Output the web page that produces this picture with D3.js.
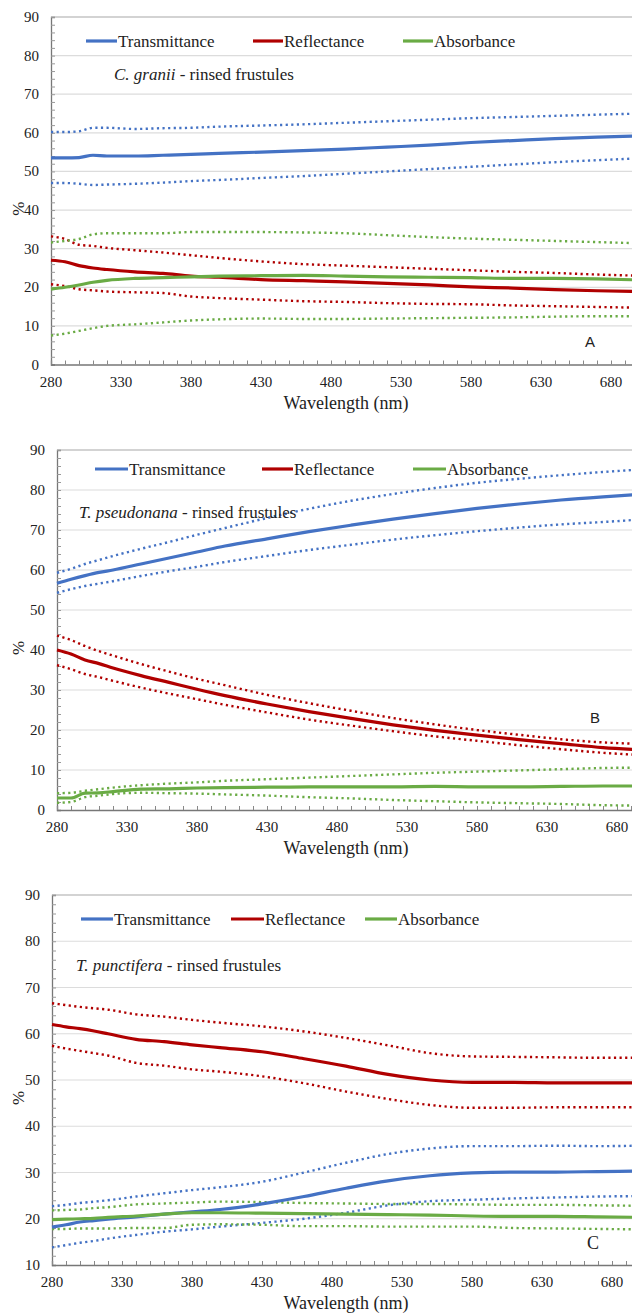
<!DOCTYPE html>
<html><head><meta charset="utf-8">
<script src="https://cdn.jsdelivr.net/npm/d3@7"></script>
<style>
html,body{margin:0;padding:0;background:#fff;}
svg{display:block;}
</style></head>
<body>
<svg id="chart" width="632" height="1316"></svg>
<script>
// ---------- DATA ----------
const wavelengths = [280,290,300,310,320,340,360,380,400,430,460,490,520,550,580,610,640,670,700];
const xTickLabels = [280,330,380,430,480,530,580,630,680];
const seriesNames = ["Transmittance","Reflectance","Absorbance"];

// Panel A: C. granii
const A_T    = [53.5,53.5,53.6,54.2,54.0,54.0,54.2,54.4,54.7,55.0,55.4,55.8,56.3,56.8,57.5,58.0,58.5,58.9,59.2];
const A_Tup  = [60.2,60.2,60.4,61.3,61.3,61.0,61.2,61.3,61.6,61.9,62.2,62.6,63.0,63.4,63.8,64.1,64.4,64.7,65.0];
const A_Tlo  = [47.0,47.0,46.8,46.5,46.6,46.8,47.1,47.5,47.8,48.3,48.8,49.4,50.0,50.6,51.2,51.8,52.4,52.9,53.4];
const A_R    = [27.0,26.6,25.6,25.0,24.6,24.0,23.6,22.9,22.6,22.0,21.7,21.4,21.0,20.6,20.1,19.8,19.4,19.1,18.9];
const A_Rup  = [33.2,32.5,31.0,30.7,30.2,29.6,29.0,28.3,27.6,26.7,26.0,25.6,25.2,24.8,24.4,24.0,23.7,23.3,23.0];
const A_Rlo  = [20.8,20.3,19.5,19.2,18.9,18.7,18.5,17.6,17.2,16.8,16.4,16.2,15.9,15.7,15.6,15.3,15.1,14.9,14.7];
const A_A    = [19.5,20.0,20.6,21.3,21.8,22.3,22.5,22.7,22.9,23.0,23.1,22.9,22.7,22.6,22.5,22.3,22.3,22.2,21.9];
const A_Aup  = [31.6,32.0,32.5,33.7,34.0,34.0,34.0,34.3,34.3,34.3,34.2,34.0,33.5,33.0,32.6,32.3,32.0,31.7,31.4];
const A_Alo  = [7.5,8.0,8.7,9.4,10.0,10.4,10.9,11.4,11.7,11.9,11.8,11.8,11.9,12.0,12.1,12.2,12.4,12.5,12.5];

// Panel B: T. pseudonana
const B_T    = [56.7,57.7,58.6,59.4,60.0,61.5,63.0,64.5,66.0,67.8,69.6,71.2,72.7,74.1,75.4,76.5,77.5,78.3,79.0];
const B_Tup  = [59.3,60.3,61.5,62.5,63.5,65.3,67.0,68.8,70.5,73.0,75.3,77.3,79.0,80.5,81.8,82.8,83.7,84.5,85.2];
const B_Tlo  = [54.3,55.2,56.0,56.6,57.2,58.5,59.7,60.8,62.0,63.5,65.0,66.3,67.6,68.7,69.7,70.6,71.4,72.0,72.7];
const B_R    = [40.0,39.0,37.5,36.6,35.5,33.6,31.9,30.2,28.6,26.5,24.6,22.9,21.3,19.9,18.7,17.6,16.6,15.6,15.0];
const B_Rup  = [43.6,42.5,41.0,39.7,38.6,36.5,34.6,32.8,31.2,28.8,26.7,24.8,23.0,21.4,20.0,18.8,17.7,16.9,16.5];
const B_Rlo  = [36.2,35.2,34.0,33.2,32.3,30.6,29.1,27.7,26.3,24.4,22.6,21.1,19.7,18.4,17.3,16.2,15.2,14.3,13.7];
const B_A    = [3.0,3.0,4.2,4.3,4.6,5.2,5.3,5.5,5.6,5.7,5.8,5.8,5.8,5.9,5.8,5.8,5.9,6.0,6.0];
const B_Aup  = [4.2,4.3,4.8,5.2,5.6,6.2,6.6,6.9,7.3,7.7,8.1,8.5,8.9,9.3,9.6,9.9,10.2,10.5,10.6];
const B_Alo  = [1.8,2.0,3.2,3.6,4.0,4.3,4.2,4.1,3.9,3.6,3.2,2.9,2.5,2.2,1.9,1.7,1.5,1.2,1.1];

// Panel C: T. punctifera
const C_T    = [18.2,18.7,19.3,19.6,19.9,20.4,21.0,21.5,22.0,23.2,24.8,26.6,28.2,29.3,29.9,30.1,30.1,30.2,30.3];
const C_Tup  = [22.7,23.0,23.4,23.7,24.0,24.8,25.5,26.2,26.8,28.0,30.0,32.1,34.0,35.2,35.7,35.7,35.8,35.7,35.8];
const C_Tlo  = [13.8,14.3,14.8,15.2,15.7,16.5,17.2,17.7,18.3,19.1,20.0,21.3,22.9,23.8,24.1,24.4,24.6,24.8,24.9];
const C_R    = [62.0,61.5,61.1,60.6,60.0,58.8,58.3,57.6,57.0,56.1,54.6,53.0,51.2,50.0,49.5,49.5,49.4,49.4,49.4];
const C_Rup  = [66.6,66.2,65.8,65.5,65.2,64.2,63.7,63.0,62.4,61.6,60.5,59.1,57.5,55.8,55.1,55.0,54.9,54.8,54.8];
const C_Rlo  = [57.4,56.8,56.3,55.8,55.3,53.7,53.1,52.3,51.8,50.8,49.3,47.5,45.9,44.6,44.0,44.0,44.1,44.1,44.1];
const C_A    = [19.8,19.9,20.0,20.1,20.3,20.6,21.0,21.3,21.3,21.2,21.1,21.0,20.9,20.8,20.6,20.5,20.5,20.4,20.3];
const C_Aup  = [21.8,21.9,22.0,22.3,22.5,23.1,23.3,23.5,23.7,23.6,23.4,23.3,23.2,23.2,23.1,23.0,23.0,22.9,22.8];
const C_Alo  = [17.8,17.8,17.9,17.9,17.9,18.0,18.0,18.7,18.8,18.7,18.4,18.4,18.3,18.3,18.3,18.0,17.9,17.8,17.7];

// ---------- STYLE / LAYOUT ----------
const colors = {Transmittance:"#4472C4", Reflectance:"#B00000", Absorbance:"#6AAB45"};
const serif = "'Liberation Serif', 'Times New Roman', Times, 'DejaVu Serif', serif";
const sans  = "'Liberation Sans', Arial, sans-serif";

const panels = [
  {x0:51, yTop:17, yBot:364.5, yMin:0, italic:"C. granii", letter:"A", letterFont:sans, letterSize:15, letterX:590, letterY:347,
   legendY:41, legend:[[86,117],[253,283],[403,433]], subX:114, subY:80,
   series:{Transmittance:[A_T,A_Tup,A_Tlo], Reflectance:[A_R,A_Rup,A_Rlo], Absorbance:[A_A,A_Aup,A_Alo]}},
  {x0:57, yTop:450, yBot:810, yMin:0, italic:"T. pseudonana", letter:"B", letterFont:sans, letterSize:15, letterX:595, letterY:723,
   legendY:469, legend:[[95,128],[262,293],[413,446]], subX:79, subY:518,
   series:{Transmittance:[B_T,B_Tup,B_Tlo], Reflectance:[B_R,B_Rup,B_Rlo], Absorbance:[B_A,B_Aup,B_Alo]}},
  {x0:52, yTop:895, yBot:1265, yMin:10, italic:"T. punctifera", letter:"C", letterFont:serif, letterSize:18, letterX:593, letterY:1249,
   legendY:919, legend:[[81,113],[231,264],[365,397]], subX:76, subY:971,
   series:{Transmittance:[C_T,C_Tup,C_Tlo], Reflectance:[C_R,C_Rup,C_Rlo], Absorbance:[C_A,C_Aup,C_Alo]}}
];

const svg = d3.select("#chart");

function txt(sel, family, size) {
  return sel.style("font-family", family).style("font-size", size + "px").style("fill", "#222");
}

panels.forEach(p => {
  const g = svg.append("g");
  const x = d3.scaleLinear().domain([280,700]).range([p.x0, p.x0 + 588]);
  const y = d3.scaleLinear().domain([p.yMin,90]).range([p.yBot, p.yTop]);

  // gridlines
  const majors = d3.range(p.yMin, 91, 10);
  g.selectAll(".grid").data(majors.filter(v => v !== p.yMin)).enter().append("line")
    .attr("x1", p.x0).attr("x2", 640)
    .attr("y1", d => y(d)).attr("y2", d => y(d))
    .attr("stroke", d => d === 90 ? "#a8a8a8" : "#dcdcdc").attr("stroke-width", 1.2);

  // y axis (inner minor ticks every 2)
  const yAxis = d3.axisRight(y).tickValues(d3.range(p.yMin, 90.1, 2)).tickSize(4).tickFormat("");
  const ya = g.append("g").attr("transform", `translate(${p.x0},0)`).call(yAxis);
  ya.select(".domain").attr("stroke", "#777").attr("stroke-width", 1.3);
  ya.selectAll(".tick line").attr("stroke", "#999");
  txt(g.selectAll(".ylab").data(majors).enter().append("text")
    .attr("x", p.x0 - 12).attr("y", d => y(d) + 5)
    .attr("text-anchor", "end"), serif, 15)
    .text(d => d);

  // x axis (inner ticks every 10)
  const xAxis = d3.axisTop(x).tickValues(d3.range(280, 701, 10)).tickSize(4).tickFormat("");
  const xa = g.append("g").attr("transform", `translate(0,${p.yBot})`).call(xAxis);
  xa.select(".domain").attr("stroke", "#777").attr("stroke-width", 1.3);
  xa.selectAll(".tick line").attr("stroke", "#888");
  txt(g.selectAll(".xlab").data(xTickLabels).enter().append("text")
    .attr("x", d => x(d)).attr("y", p.yBot + 22)
    .attr("text-anchor", "middle"), serif, 15)
    .text(d => d);

  // axis titles
  txt(g.append("text").attr("x", 346).attr("y", p.yBot + 44)
    .attr("text-anchor", "middle"), serif, 18)
    .text("Wavelength (nm)");
  const cy = (p.yTop + p.yBot) / 2 + 18;
  txt(g.append("text").attr("transform", `translate(24,${cy}) rotate(-90)`)
    .attr("text-anchor", "middle"), serif, 17)
    .text("%");

  // lines
  const line = d3.line().x((d, i) => x(wavelengths[i])).y(d => y(d)).curve(d3.curveMonotoneX);
  seriesNames.forEach(name => {
    const [mean, up, lo] = p.series[name];
    [up, lo].forEach(arr => {
      g.append("path").attr("d", line(arr)).attr("fill", "none")
        .attr("stroke", colors[name]).attr("stroke-width", 2.4)
        .attr("stroke-dasharray", "2.2 3.4");
    });
  });
  seriesNames.forEach(name => {
    const mean = p.series[name][0];
    g.append("path").attr("d", line(mean)).attr("fill", "none")
      .attr("stroke", colors[name]).attr("stroke-width", 3.2).attr("stroke-linejoin", "round");
  });

  // legend
  seriesNames.forEach((name, i) => {
    const [a, b] = p.legend[i];
    g.append("line").attr("x1", a).attr("x2", b).attr("y1", p.legendY).attr("y2", p.legendY)
      .attr("stroke", colors[name]).attr("stroke-width", 3.2);
    txt(g.append("text").attr("x", b + 1).attr("y", p.legendY + 6), serif, 17).text(name);
  });

  // subtitle
  const st = txt(g.append("text").attr("x", p.subX).attr("y", p.subY), serif, 17);
  st.append("tspan").style("font-style", "italic").text(p.italic);
  st.append("tspan").text(" - rinsed frustules");

  // panel letter
  txt(g.append("text").attr("x", p.letterX).attr("y", p.letterY)
    .attr("text-anchor", "middle"), p.letterFont, p.letterSize)
    .text(p.letter);
});
</script>
</body></html>
